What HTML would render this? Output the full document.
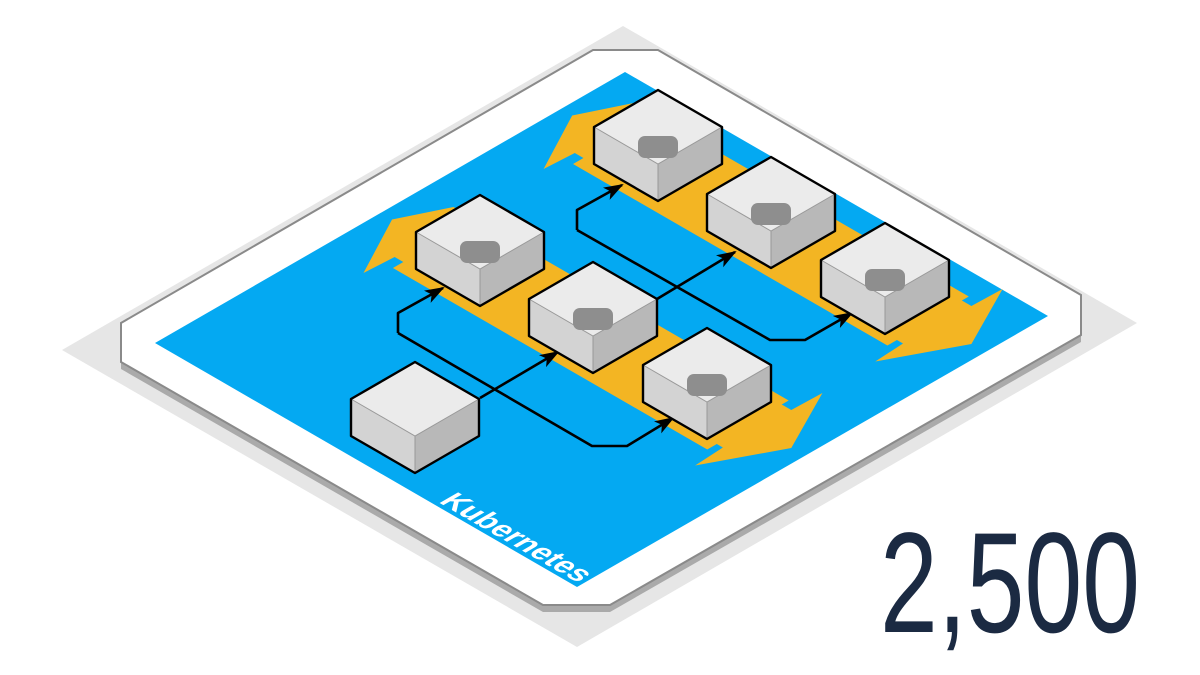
<!DOCTYPE html>
<html><head><meta charset="utf-8"><style>html,body{margin:0;padding:0;background:#fff}svg{display:block}</style></head>
<body>
<svg width="1200" height="675" viewBox="0 0 1200 675" xmlns="http://www.w3.org/2000/svg">
<defs>
<marker id="ah" markerUnits="userSpaceOnUse" markerWidth="22" markerHeight="16" refX="18" refY="7" orient="auto">
<path d="M0,0 L20,7 L0,14 L5,7 z" fill="#000"/>
</marker>
</defs>
<polygon points="623,26 1137,323 577,647 62,350" fill="#e6e6e6"/>
<polygon points="593,57 658,57 1081,302 1081,342 610,612 543,612 121,369 121,330" fill="#aaaaaa"/>
<polygon points="593,50 658,50 1081,295 1081,335 610,605 543,605 121,362 121,323" fill="#fff" stroke="#8a8a8a" stroke-width="2"/>
<polygon points="625,72 1048,316 577,587 155,343" fill="#04a9f2"/>
<g transform="matrix(0.866,0.5,-0.866,0.5,625,72)">
<polygon fill="#f3b523" points="36,234 13,282 50,352 52,318 62,318 62,330 425,330 425,319 432,319 434,353 472,280 435,207 434,242 423,242 423,234"/>
<polygon fill="#f3b523" transform="translate(0,-208)" points="36,234 13,282 50,352 52,318 62,318 62,330 425,330 425,319 432,319 434,353 472,280 435,207 434,242 423,242 423,234"/>
<text x="322" y="538" font-family="Liberation Sans, sans-serif" font-weight="bold" font-size="31" fill="#fff" textLength="162" lengthAdjust="spacingAndGlyphs">Kubernetes</text>
</g>
<g fill="none" stroke="#000" stroke-width="2.6" stroke-linejoin="round">
<polyline points="480,398 558,352" marker-end="url(#ah)"/>
<polyline points="657,299 735,252" marker-end="url(#ah)"/>
<polyline points="398,333 398,313 443,288" marker-end="url(#ah)"/>
<polyline points="398,333 592,446 627,446 673,418" marker-end="url(#ah)"/>
<polyline points="577,230 577,210 622,185" marker-end="url(#ah)"/>
<polyline points="577,230 770,340 805,340 852,313" marker-end="url(#ah)"/>
</g>
<g>
<g transform="translate(658,90)">
<polygon points="0,0 64,37 0,74 -64,37" fill="#ebebeb"/><polygon points="-64,37 0,74 0,111 -64,74" fill="#d3d3d3"/><polygon points="64,37 0,74 0,111 64,74" fill="#b8b8b8"/>
<polyline points="-64,37 0,74 64,37" fill="none" stroke="#999" stroke-width="1"/><line x1="0" y1="74" x2="0" y2="111" stroke="#999" stroke-width="1"/>
<rect x="-20" y="46" width="40" height="22" rx="7" fill="#8e8e8e"/>
<polygon points="0,0 64,37 64,74 0,111 -64,74 -64,37" fill="none" stroke="#000" stroke-width="2.4" stroke-linejoin="round"/></g>
<g transform="translate(771,157)">
<polygon points="0,0 64,37 0,74 -64,37" fill="#ebebeb"/><polygon points="-64,37 0,74 0,111 -64,74" fill="#d3d3d3"/><polygon points="64,37 0,74 0,111 64,74" fill="#b8b8b8"/>
<polyline points="-64,37 0,74 64,37" fill="none" stroke="#999" stroke-width="1"/><line x1="0" y1="74" x2="0" y2="111" stroke="#999" stroke-width="1"/>
<rect x="-20" y="46" width="40" height="22" rx="7" fill="#8e8e8e"/>
<polygon points="0,0 64,37 64,74 0,111 -64,74 -64,37" fill="none" stroke="#000" stroke-width="2.4" stroke-linejoin="round"/></g>
<g transform="translate(885,223)">
<polygon points="0,0 64,37 0,74 -64,37" fill="#ebebeb"/><polygon points="-64,37 0,74 0,111 -64,74" fill="#d3d3d3"/><polygon points="64,37 0,74 0,111 64,74" fill="#b8b8b8"/>
<polyline points="-64,37 0,74 64,37" fill="none" stroke="#999" stroke-width="1"/><line x1="0" y1="74" x2="0" y2="111" stroke="#999" stroke-width="1"/>
<rect x="-20" y="46" width="40" height="22" rx="7" fill="#8e8e8e"/>
<polygon points="0,0 64,37 64,74 0,111 -64,74 -64,37" fill="none" stroke="#000" stroke-width="2.4" stroke-linejoin="round"/></g>
<g transform="translate(480,195)">
<polygon points="0,0 64,37 0,74 -64,37" fill="#ebebeb"/><polygon points="-64,37 0,74 0,111 -64,74" fill="#d3d3d3"/><polygon points="64,37 0,74 0,111 64,74" fill="#b8b8b8"/>
<polyline points="-64,37 0,74 64,37" fill="none" stroke="#999" stroke-width="1"/><line x1="0" y1="74" x2="0" y2="111" stroke="#999" stroke-width="1"/>
<rect x="-20" y="46" width="40" height="22" rx="7" fill="#8e8e8e"/>
<polygon points="0,0 64,37 64,74 0,111 -64,74 -64,37" fill="none" stroke="#000" stroke-width="2.4" stroke-linejoin="round"/></g>
<g transform="translate(593,262)">
<polygon points="0,0 64,37 0,74 -64,37" fill="#ebebeb"/><polygon points="-64,37 0,74 0,111 -64,74" fill="#d3d3d3"/><polygon points="64,37 0,74 0,111 64,74" fill="#b8b8b8"/>
<polyline points="-64,37 0,74 64,37" fill="none" stroke="#999" stroke-width="1"/><line x1="0" y1="74" x2="0" y2="111" stroke="#999" stroke-width="1"/>
<rect x="-20" y="46" width="40" height="22" rx="7" fill="#8e8e8e"/>
<polygon points="0,0 64,37 64,74 0,111 -64,74 -64,37" fill="none" stroke="#000" stroke-width="2.4" stroke-linejoin="round"/></g>
<g transform="translate(707,328)">
<polygon points="0,0 64,37 0,74 -64,37" fill="#ebebeb"/><polygon points="-64,37 0,74 0,111 -64,74" fill="#d3d3d3"/><polygon points="64,37 0,74 0,111 64,74" fill="#b8b8b8"/>
<polyline points="-64,37 0,74 64,37" fill="none" stroke="#999" stroke-width="1"/><line x1="0" y1="74" x2="0" y2="111" stroke="#999" stroke-width="1"/>
<rect x="-20" y="46" width="40" height="22" rx="7" fill="#8e8e8e"/>
<polygon points="0,0 64,37 64,74 0,111 -64,74 -64,37" fill="none" stroke="#000" stroke-width="2.4" stroke-linejoin="round"/></g>
<g transform="translate(415,362)">
<polygon points="0,0 64,37 0,74 -64,37" fill="#ebebeb"/><polygon points="-64,37 0,74 0,111 -64,74" fill="#d3d3d3"/><polygon points="64,37 0,74 0,111 64,74" fill="#b8b8b8"/>
<polyline points="-64,37 0,74 64,37" fill="none" stroke="#999" stroke-width="1"/><line x1="0" y1="74" x2="0" y2="111" stroke="#999" stroke-width="1"/>
<polygon points="0,0 64,37 64,74 0,111 -64,74 -64,37" fill="none" stroke="#000" stroke-width="2.4" stroke-linejoin="round"/></g>
</g>
<text x="880" y="632" font-family="Liberation Sans Narrow, Liberation Sans, sans-serif" font-size="143" fill="#1b2a42" textLength="260" lengthAdjust="spacingAndGlyphs">2,500</text>
</svg>
</body></html>
